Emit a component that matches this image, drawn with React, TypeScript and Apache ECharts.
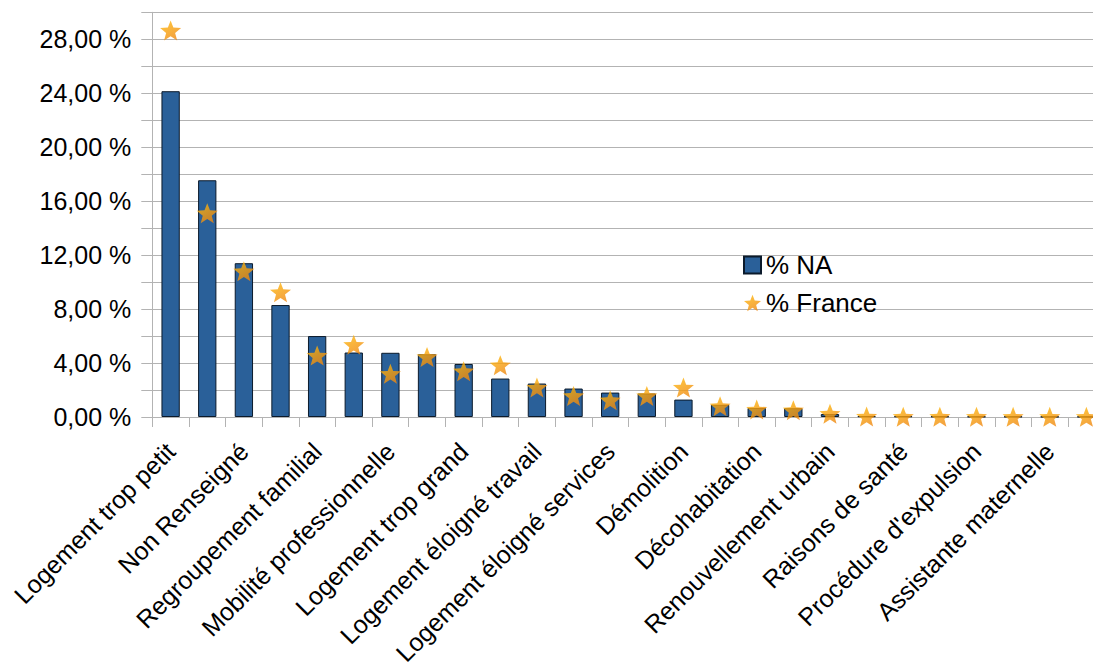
import React, { useEffect, useRef } from "react";
import * as echarts from "echarts";

// Reasons for moving; only every other category name is printed on the axis.
const categories: string[] = [
  "Logement trop petit", "",
  "Non Renseigné", "",
  "Regroupement familial", "",
  "Mobilité professionnelle", "",
  "Logement trop grand", "",
  "Logement éloigné travail", "",
  "Logement éloigné services", "",
  "Démolition", "",
  "Décohabitation", "",
  "Renouvellement urbain", "",
  "Raisons de santé", "",
  "Procédure d'expulsion", "",
  "Assistante maternelle", "",
];

// Share of each reason (%), Nouvelle-Aquitaine
const naValues: number[] = [
  24.15, 17.55, 11.4, 8.3, 6.0, 4.78, 4.76, 4.65, 3.93, 2.85, 2.48, 2.11, 1.81,
  1.74, 1.29, 0.9, 0.67, 0.65, 0.22, 0.06, 0.05, 0.04, 0.03, 0.03, 0.02, 0.02,
];

// Share of each reason (%), France
const franceValues: number[] = [
  28.65, 15.1, 10.8, 9.25, 4.55, 5.35, 3.2, 4.45, 3.4, 3.84, 2.18, 1.56, 1.24,
  1.56, 2.18, 0.8, 0.55, 0.5, 0.25, 0.03, 0.02, 0.02, 0.02, 0.01, 0.01, 0.01,
];

const yTickValues: number[] = [0, 4, 8, 12, 16, 20, 24, 28];

const seriesNames = ["% NA", "% France"];

// Five-pointed star marker
const STAR =
  "path://M50,0 L62.5,32.5 L98,34.5 L70.5,57 L80,92 L50,72.5 L20,92 L29.5,57 L2,34.5 L37.5,32.5 Z";

const FONT = "'Liberation Sans', Arial, sans-serif";
const GRID_GRAY = "#b3b3b3";

export default function App() {
  const ref = useRef<HTMLDivElement>(null);

  useEffect(() => {
    if (!ref.current) return;
    const chart = echarts.init(ref.current, undefined, { renderer: "svg" });

    const starFill = new echarts.graphic.LinearGradient(0.2, 0, 0.8, 1, [
      { offset: 0, color: "#ffb80a" },
      { offset: 1, color: "#ee8410" },
    ]);

    chart.setOption({
      animation: false,
      backgroundColor: "#ffffff",
      textStyle: { fontFamily: FONT },
      grid: {
        left: 152.3,
        top: 12.3,
        right: -11.7,
        bottom: 253,
        containLabel: false,
        outerBoundsMode: "none",
      },
      legend: {
        orient: "vertical",
        left: 738,
        top: 247,
        itemWidth: 17,
        itemHeight: 17,
        itemGap: 12,
        textStyle: { fontSize: 26, color: "#000000", fontFamily: FONT },
        data: [
          { name: seriesNames[0], icon: "rect" },
          { name: seriesNames[1], icon: STAR },
        ],
      },
      xAxis: {
        type: "category",
        data: categories,
        boundaryGap: true,
        axisLine: { show: true, lineStyle: { color: GRID_GRAY, width: 1 } },
        axisTick: { show: true, interval: 0, length: 10, lineStyle: { color: GRID_GRAY } },
        axisLabel: {
          interval: 1,
          rotate: 45,
          align: "right",
          verticalAlign: "middle",
          margin: 30,
          fontSize: 25,
          color: "#000000",
          fontFamily: FONT,
        },
        splitLine: { show: false },
      },
      yAxis: {
        type: "value",
        min: 0,
        max: 30,
        interval: 2,
        axisLine: { show: true, lineStyle: { color: GRID_GRAY, width: 1 } },
        axisTick: { show: true, length: 11, lineStyle: { color: GRID_GRAY } },
        splitLine: { show: true, lineStyle: { color: GRID_GRAY, width: 1 } },
        axisLabel: {
          margin: 21,
          fontSize: 25,
          color: "#000000",
          fontFamily: FONT,
          formatter: (v: number) =>
            yTickValues.includes(v) ? v.toFixed(2).replace(".", ",") + " %" : "",
        },
      },
      series: [
        {
          name: seriesNames[0],
          type: "bar",
          data: naValues,
          barWidth: "50%",
          itemStyle: { color: "#2a6099", borderColor: "#0b1a2b", borderWidth: 1 },
        },
        {
          name: seriesNames[1],
          type: "scatter",
          data: franceValues,
          symbol: STAR,
          symbolSize: [21, 20],
          itemStyle: { color: starFill },
          z: 3,
        },
      ],
    });

    return () => chart.dispose();
  }, []);

  return (
    <div
      ref={ref}
      style={{ position: "fixed", left: 0, top: 0, width: 1093, height: 670, background: "#fff" }}
    />
  );
}
